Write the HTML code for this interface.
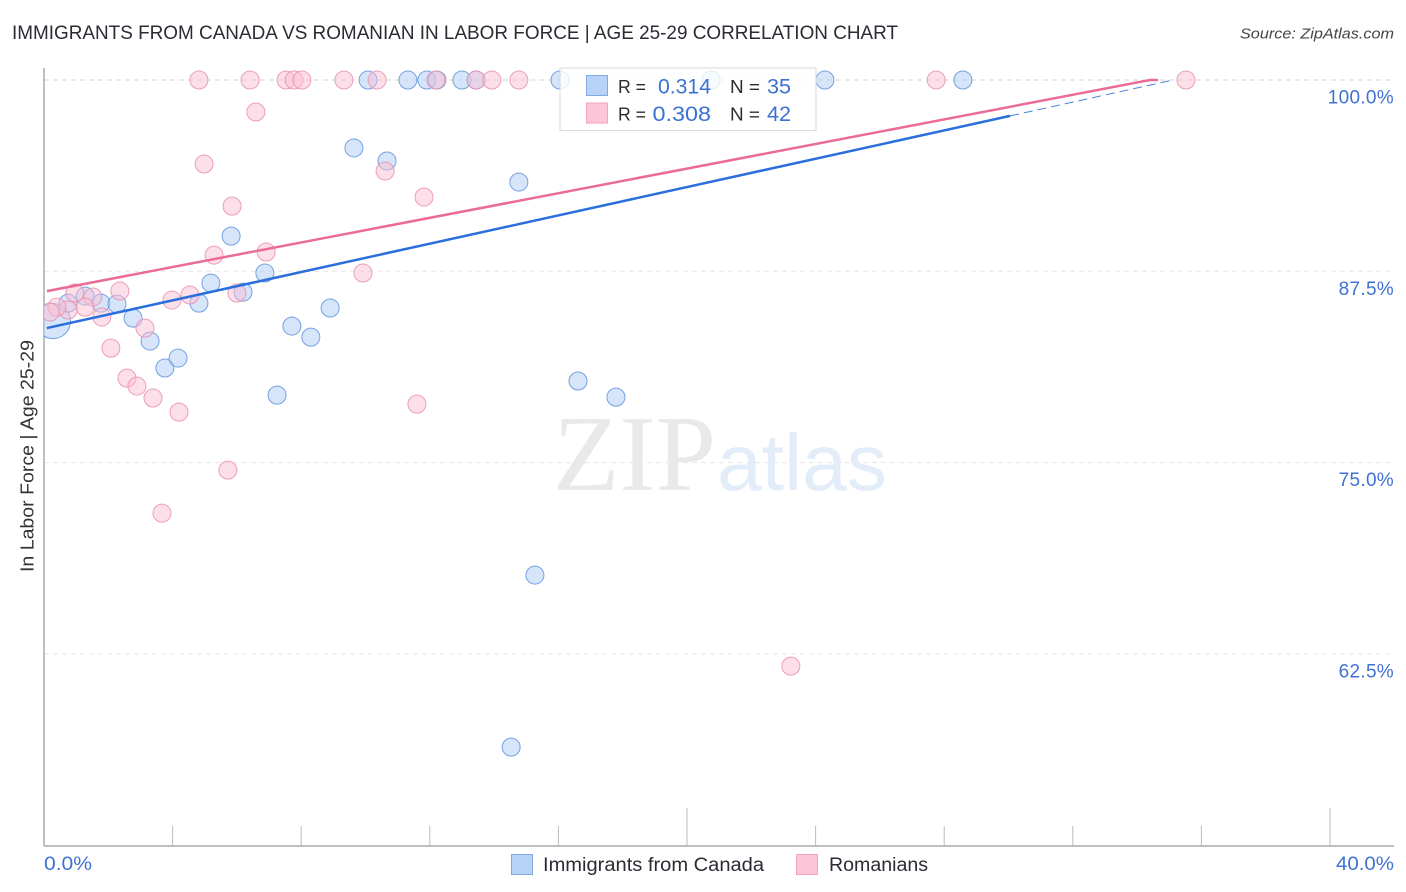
<!DOCTYPE html>
<html lang="en">
<head>
<meta charset="utf-8">
<title>Immigrants from Canada vs Romanian in Labor Force | Age 25-29 Correlation Chart</title>
<style>
html,body{margin:0;padding:0;background:#fff;width:1406px;height:892px;overflow:hidden}
svg{display:block;font-family:"Liberation Sans",sans-serif}
</style>
</head>
<body>
<svg id="chart" width="1406" height="892" viewBox="0 0 1406 892" xmlns="http://www.w3.org/2000/svg">
  <defs>
    <clipPath id="plot-clip"><rect x="44" y="60" width="1350" height="786"/></clipPath>
  </defs>
  <text x="12" y="39" font-size="19.5" fill="#2b2b33" textLength="886" lengthAdjust="spacingAndGlyphs">IMMIGRANTS FROM CANADA VS ROMANIAN IN LABOR FORCE | AGE 25-29 CORRELATION CHART</text>
  <text x="1394" y="38.500" font-size="15" font-style="italic" fill="#444" text-anchor="end" textLength="154" lengthAdjust="spacingAndGlyphs">Source: ZipAtlas.com</text>
  <g id="grid"></g>
  <text x="553" y="490" font-family="Liberation Serif" font-size="108" fill="#e9e9e9" textLength="163" lengthAdjust="spacingAndGlyphs">ZIP</text>
  <text x="717" y="490" font-size="80" fill="#e3ecf9" textLength="170" lengthAdjust="spacingAndGlyphs">atlas</text>
  <g id="axes"></g>
  <g id="points-blue" clip-path="url(#plot-clip)"></g>
  <g id="points-pink" clip-path="url(#plot-clip)"></g>
  <g id="trends"></g>
  <text transform="translate(33.500,456) rotate(-90)" font-size="18.500" fill="#333" text-anchor="middle" textLength="232" lengthAdjust="spacingAndGlyphs">In Labor Force | Age 25-29</text>
  <g>
    <rect x="560" y="68" width="256" height="62.500" fill="#fff" fill-opacity="0.8" stroke="#d8d8d8" stroke-width="1"/>
    <rect x="586.500" y="75.500" width="21" height="20" fill="#b8d3f7" stroke="#7fa9e0"/>
    <rect x="586.500" y="103" width="21" height="20" fill="#fcc6d8" stroke="#f2a3bd"/>
    <text x="618" y="93" font-size="18.500" fill="#2b2b33" textLength="28" lengthAdjust="spacingAndGlyphs">R =</text>
    <text x="658" y="93.500" font-size="21" fill="#3a72d2" textLength="53" lengthAdjust="spacingAndGlyphs">0.314</text>
    <text x="730" y="93" font-size="18.500" fill="#2b2b33" textLength="30" lengthAdjust="spacingAndGlyphs">N =</text>
    <text x="767" y="93.500" font-size="21" fill="#3a72d2" textLength="24" lengthAdjust="spacingAndGlyphs">35</text>
    <text x="618" y="120.500" font-size="18.500" fill="#2b2b33" textLength="28" lengthAdjust="spacingAndGlyphs">R =</text>
    <text x="652.500" y="121" font-size="21" fill="#3a72d2" textLength="58.500" lengthAdjust="spacingAndGlyphs">0.308</text>
    <text x="730" y="120.500" font-size="18.500" fill="#2b2b33" textLength="30" lengthAdjust="spacingAndGlyphs">N =</text>
    <text x="767" y="121" font-size="21" fill="#3a72d2" textLength="24" lengthAdjust="spacingAndGlyphs">42</text>
  </g>
  <g>
    <g>
      <rect x="511.500" y="854.500" width="21" height="20" fill="#b8d3f7" stroke="#7fa9e0"/>
      <text x="543" y="871" font-size="19" fill="#2b2b33" textLength="221" lengthAdjust="spacingAndGlyphs">Immigrants from Canada</text>
    </g>
    <g>
      <rect x="796.500" y="854.500" width="21" height="20" fill="#fcc6d8" stroke="#f2a3bd"/>
      <text x="829" y="871" font-size="19" fill="#2b2b33" textLength="99" lengthAdjust="spacingAndGlyphs">Romanians</text>
    </g>
  </g>
</svg>
<script>
const yTickValues = [100, 87.5, 75, 62.5];
const yTickLabels = ["100.0%", "87.5%", "75.0%", "62.5%"];
const xTickValues = [0, 4, 8, 12, 16, 20, 24, 28, 32, 36, 40];
const xEndLabels = ["0.0%", "40.0%"];
const canadaX = [0.28,0.75,1.28,1.77,2.27,2.77,3.30,3.76,4.17,4.82,5.19,5.82,6.19,6.87,7.25,7.71,8.30,8.90,9.64,10.67,10.08,11.32,11.91,12.22,13.00,13.44,14.77,16.05,16.61,17.79,15.27,14.53,20.75,24.29,28.58];
const canadaY = [84.25,85.42,85.88,85.42,85.36,84.44,82.94,81.18,81.83,85.42,86.73,89.80,86.14,87.39,79.41,83.92,83.20,85.10,95.56,94.71,100,100,100,100,100,100,93.33,100,80.33,79.28,67.65,56.41,100,100,100];
const canadaWeight = [3.8,1,1,1,1,1,1,1,1,1,1,1,1,1,1,1,1,1,1,1,1,1,1,1,1,1,1,1,1,1,1,1,1,1,1];
const romanianX = [4.82,6.41,7.53,7.78,8.02,9.33,6.59,4.98,5.85,5.29,6.91,6.00,4.54,3.98,2.36,1.52,0.96,1.28,0.75,0.40,0.19,1.80,3.14,2.08,2.58,2.89,3.39,4.20,5.72,3.67,9.92,10.61,11.82,11.60,23.23,10.36,12.19,13.44,13.93,14.77,27.75,35.52];
const romanianY = [100,100,100,100,100,100,97.91,94.51,91.76,88.56,88.76,86.08,85.95,85.62,86.21,85.82,86.08,85.16,84.97,85.16,84.84,84.51,83.79,82.48,80.52,80.00,79.22,78.30,74.51,71.70,87.39,94.05,92.35,78.82,61.70,100,100,100,100,100,100,100];
const canadaTrend = [83.75, 0.4627];
const romanianTrend = [86.17, 0.402];
const trendStartX = 0.09;
const canadaSolidEndX = 30.05;
const canadaDashEndX = 35.12;
const romanianRiseEndX = 34.4;
const romanianFlatEndX = 34.65;

const NS = "http://www.w3.org/2000/svg";
const sx = v => 44 + v * 1286 / 40;
const sy = v => 80 + (100 - v) * 765.2 / 50;
function make(tag, attrs, parent, text) {
  const el = document.createElementNS(NS, tag);
  for (const k in attrs) el.setAttribute(k, attrs[k]);
  if (text !== undefined) el.textContent = text;
  parent.appendChild(el);
  return el;
}
const grid = document.getElementById("grid");
const axes = document.getElementById("axes");
yTickValues.forEach((v, i) => {
  const line = make("line", {x1: 44, x2: 1394, y1: sy(v), y2: sy(v), stroke: i === 0 ? "#d2d2d2" : "#e6e6e6", "stroke-width": 1, "stroke-dasharray": "5 4"}, grid);
  
  
  const label = make("text", {x: 1394, y: sy(v) + 23.5, "font-size": 19, "letter-spacing": 0.3, fill: "#3f72d4", "text-anchor": "end"}, axes, yTickLabels[i]);
  
  
});
const yAxis = make("line", {x1: 44, x2: 44, y1: 68, y2: 846, stroke: "#aaa", "stroke-width": 1.5}, axes);


const xAxis = make("line", {x1: 44, x2: 1394, y1: 846, y2: 846, stroke: "#aaa", "stroke-width": 1.5}, axes);


xTickValues.forEach(v => {
  if (v === 0) return;
  const major = v % 20 === 0;
  const tick = make("line", {x1: sx(v), x2: sx(v), y1: major ? 808 : 826, y2: 846, stroke: "#bbb", "stroke-width": 1}, axes);
  
  
});
const xLeft = make("text", {x: 44, y: 870, "font-size": 19, fill: "#3f72d4", textLength: 48, lengthAdjust: "spacingAndGlyphs"}, axes, xEndLabels[0]);


const xRight = make("text", {x: 1394, y: 870, "font-size": 19, fill: "#3f72d4", "text-anchor": "end", textLength: 58, lengthAdjust: "spacingAndGlyphs"}, axes, xEndLabels[1]);



const blue = document.getElementById("points-blue");
canadaX.forEach((x, i) => {
  const c = make("circle", {cx: sx(x), cy: sy(canadaY[i]), r: 9 * Math.sqrt(canadaWeight[i]), fill: "#b5d0f5", "fill-opacity": 0.55, stroke: "#5f93dc", "stroke-opacity": 0.85, "stroke-width": 1}, blue);
  
  
});
const pink = document.getElementById("points-pink");
romanianX.forEach((x, i) => {
  const c = make("circle", {cx: sx(x), cy: sy(romanianY[i]), r: 9, fill: "#f9c0d3", "fill-opacity": 0.5, stroke: "#ea8fae", "stroke-opacity": 0.85, "stroke-width": 1}, pink);
  
  
});

const trends = document.getElementById("trends");
const lineAt = (t, x) => t[0] + t[1] * x;
const dash = make("line", {x1: sx(canadaSolidEndX), y1: sy(lineAt(canadaTrend, canadaSolidEndX)), x2: sx(canadaDashEndX), y2: sy(lineAt(canadaTrend, canadaDashEndX)), stroke: "#4c82d8", "stroke-width": 1, "stroke-dasharray": "9 5"}, trends);


const blueLine = make("line", {x1: sx(trendStartX), y1: sy(lineAt(canadaTrend, trendStartX)), x2: sx(canadaSolidEndX), y2: sy(lineAt(canadaTrend, canadaSolidEndX)), stroke: "#2a6fdb", "stroke-width": 2.5}, trends);


const pinkPts = [[trendStartX, lineAt(romanianTrend, trendStartX)], [romanianRiseEndX, lineAt(romanianTrend, romanianRiseEndX)], [romanianFlatEndX, 100]];
const pinkLine = make("polyline", {points: pinkPts.map(p => sx(p[0]) + "," + sy(p[1])).join(" "), fill: "none", stroke: "#ea6b97", "stroke-width": 2.5}, trends);


</script>
</body>
</html>
